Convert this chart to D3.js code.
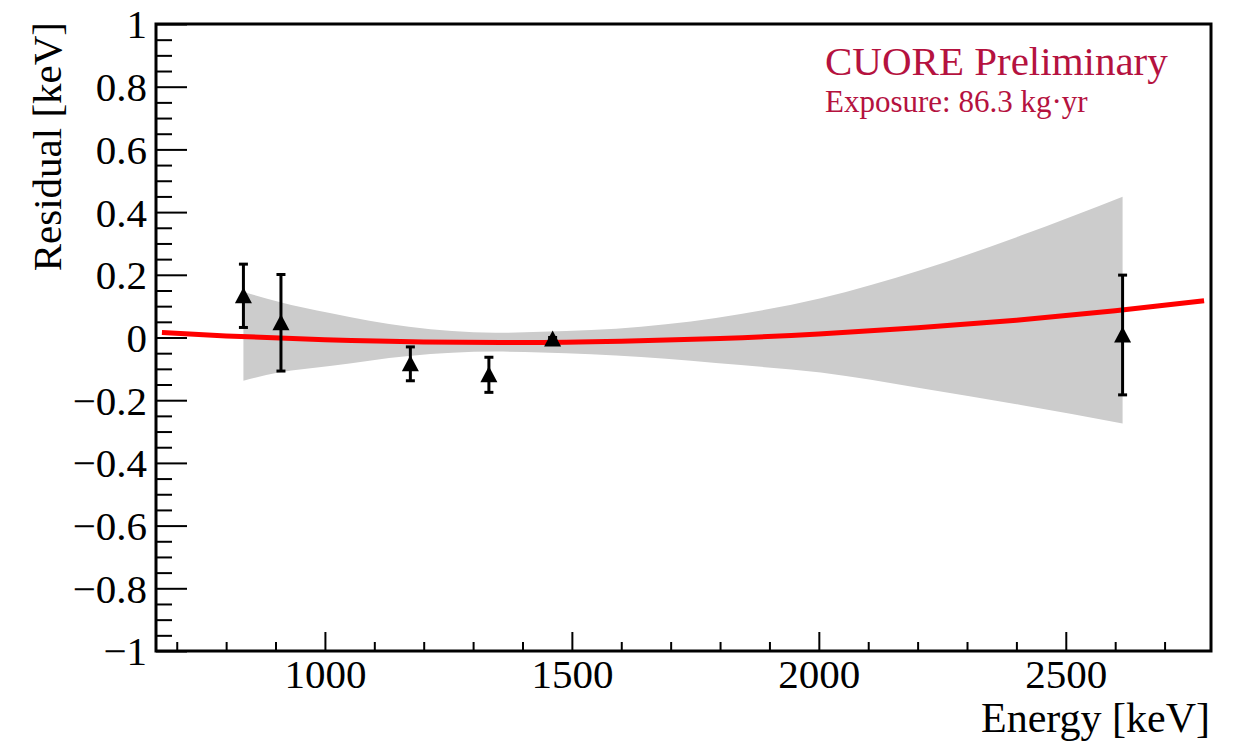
<!DOCTYPE html>
<html>
<head>
<meta charset="utf-8">
<script src="https://cdn.jsdelivr.net/npm/d3@7"></script>
<style>
  body { margin: 0; background: #fff; }
  svg text { font-family: "Liberation Serif", "Times New Roman", Times, serif; }
</style>
</head>
<body>
<svg id="chart" width="1236" height="742"></svg>
<script>
// calibration peaks and their residuals
let peakEnergy = [835, 911, 1173, 1332, 1461, 2615];
let peakResidual = [0.133, 0.047, -0.084, -0.119, -0.005, 0.008];
let peakError = [0.101, 0.154, 0.054, 0.056, 0.005, 0.191];

// fitted residual curve, sampled from the red line
let fitEnergy = [670, 800, 1000, 1200, 1400, 1600, 1800, 2000, 2200, 2400, 2600, 2780];
let fitResidual = [0.016, 0.005, -0.007, -0.014, -0.016, -0.012, -0.003, 0.011, 0.031, 0.055, 0.085, 0.117];

// grey confidence band
let bandEnergy = [835, 906, 1010, 1170, 1345, 1438, 1640, 1842, 2004, 2207, 2409, 2615];
let bandHigh = [0.146, 0.114, 0.078, 0.034, 0.015, 0.018, 0.034, 0.075, 0.125, 0.215, 0.325, 0.449];
let bandLow = [-0.138, -0.112, -0.091, -0.059, -0.045, -0.048, -0.062, -0.088, -0.112, -0.162, -0.215, -0.274];

let xTicks = [1000, 1500, 2000, 2500];
let xTickLabels = ["1000", "1500", "2000", "2500"];
let yTicks = [-1, -0.8, -0.6, -0.4, -0.2, 0, 0.2, 0.4, 0.6, 0.8, 1];
let yTickLabels = ["\u22121", "\u22120.8", "\u22120.6", "\u22120.4", "\u22120.2", "0", "0.2", "0.4", "0.6", "0.8", "1"];

const svg = d3.select("#chart");
const plotL = 156, plotR = 1211, plotT = 24, plotB = 651;

let xscale = d3.scaleLinear().domain([658, 2794]).range([plotL, plotR]);
let yscale = d3.scaleLinear().domain([-1, 1]).range([plotB, plotT]);

// band
let band = bandEnergy.map((e, i) => ({ e: e, lo: bandLow[i], hi: bandHigh[i] }));
svg.append("path")
    .datum(band)
    .attr("fill", "#cccccc")
    .attr("d", d3.area()
        .x(d => xscale(d.e))
        .y0(d => yscale(d.lo))
        .y1(d => yscale(d.hi))
        .curve(d3.curveMonotoneX));

// fit line
let fit = fitEnergy.map((e, i) => ({ e: e, v: fitResidual[i] }));
svg.append("path")
    .datum(fit)
    .attr("fill", "none")
    .attr("stroke", "#ff0000")
    .attr("stroke-width", 5)
    .attr("d", d3.line()
        .x(d => xscale(d.e))
        .y(d => yscale(d.v))
        .curve(d3.curveMonotoneX));

// points with error bars
let pts = peakEnergy.map((e, i) => ({ e: e, v: peakResidual[i], err: peakError[i] }));
const gPts = svg.append("g");
let p = gPts.selectAll("g").data(pts).enter().append("g");
p.append("line")
    .attr("x1", d => xscale(d.e)).attr("x2", d => xscale(d.e))
    .attr("y1", d => yscale(d.v + d.err)).attr("y2", d => yscale(d.v - d.err))
    .attr("stroke", "#000").attr("stroke-width", 3);
[1, -1].forEach(s => {
    p.append("line")
        .attr("x1", d => xscale(d.e) - 4.5).attr("x2", d => xscale(d.e) + 4.5)
        .attr("y1", d => yscale(d.v + s * d.err)).attr("y2", d => yscale(d.v + s * d.err))
        .attr("stroke", "#000").attr("stroke-width", 3);
});
p.append("path")
    .attr("transform", d => `translate(${xscale(d.e)},${yscale(d.v)})`)
    .attr("d", "M0,-8.5L8.5,7.5L-8.5,7.5Z")
    .attr("fill", "#000");

// axes
let yAxis = d3.axisLeft(yscale).tickValues(yTicks)
    .tickFormat((d, i) => yTickLabels[i]).tickSizeInner(-31).tickSizeOuter(0).tickPadding(9);
let yMinor = d3.axisLeft(yscale).tickValues(d3.range(-0.95, 1, 0.05).filter(v => Math.abs(Math.round(v * 5) - v * 5) > 0.01))
    .tickFormat("").tickSizeInner(-16).tickSizeOuter(0);
let xAxis = d3.axisBottom(xscale).tickValues(xTicks)
    .tickFormat((d, i) => xTickLabels[i]).tickSizeInner(-19).tickSizeOuter(0).tickPadding(10);
let xMinor = d3.axisBottom(xscale).tickValues(d3.range(700, 2800, 100).filter(v => v % 500 !== 0))
    .tickFormat("").tickSizeInner(-9).tickSizeOuter(0);

const gy = svg.append("g").attr("transform", `translate(${plotL},0)`).call(yAxis);
const gy2 = svg.append("g").attr("transform", `translate(${plotL},0)`).call(yMinor);
const gx = svg.append("g").attr("transform", `translate(0,${plotB})`).call(xAxis);
const gx2 = svg.append("g").attr("transform", `translate(0,${plotB})`).call(xMinor);
[gy, gy2, gx, gx2].forEach(g => {
    g.attr("font-family", null);
    g.select(".domain").remove();
    g.selectAll("line").attr("stroke", "#000").attr("stroke-width", 2);
    g.selectAll("text").attr("font-size", 41).attr("fill", "#000");
});
gy.selectAll("text").attr("dy", "0.34em");
gx.selectAll("text").attr("dy", "0.66em");

// frame
svg.append("rect")
    .attr("x", plotL).attr("y", plotT)
    .attr("width", plotR - plotL).attr("height", plotB - plotT)
    .attr("fill", "none").attr("stroke", "#000").attr("stroke-width", 3);

// titles
svg.append("text")
    .attr("x", 1210).attr("y", 732)
    .attr("text-anchor", "end").attr("font-size", 42)
    .text("Energy [keV]");
svg.append("text")
    .attr("transform", "translate(61,22) rotate(-90)")
    .attr("text-anchor", "end").attr("font-size", 41)
    .text("Residual [keV]");

svg.append("text")
    .attr("x", 825).attr("y", 75)
    .attr("font-size", 41).attr("fill", "#b5123f")
    .text("CUORE Preliminary");
svg.append("text")
    .attr("x", 825).attr("y", 112)
    .attr("font-size", 31).attr("fill", "#b5123f")
    .text("Exposure: 86.3 kg\u00b7yr");
</script>
</body>
</html>
